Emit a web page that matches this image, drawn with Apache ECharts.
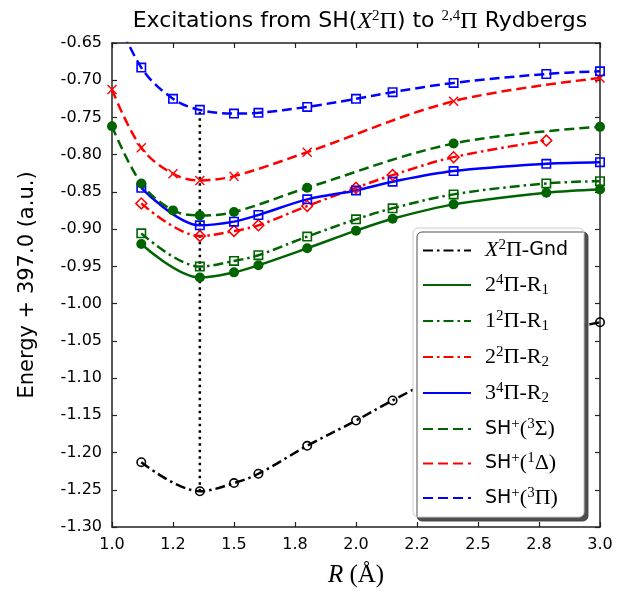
<!DOCTYPE html>
<html>
<head>
<meta charset="utf-8">
<script src="https://cdn.jsdelivr.net/npm/echarts@6/dist/echarts.min.js"></script>
<style>
  html, body { margin: 0; padding: 0; background: #fff; }
  #chart { width: 617px; height: 593px; }
</style>
</head>
<body>
<div id="chart"></div>
<script>
// ---- data ----
const X_TICK_LABELS = ["1.0", "1.2", "1.5", "1.8", "2.0", "2.2", "2.5", "2.8", "3.0"];

const R_FULL = [1.12, 1.36, 1.5, 1.6, 1.8, 2.0, 2.15, 2.4, 2.78, 3.0];
const R_ION = [1.0, 1.12, 1.25, 1.36, 1.5, 1.8, 2.4, 3.0];
const R_PI3 = [1.0, 1.12, 1.25, 1.36, 1.5, 1.6, 1.8, 2.0, 2.15, 2.4, 2.78, 3.0];

const GND = [-1.213, -1.252, -1.241, -1.2285, -1.191, -1.157, -1.130, -1.089, -1.042, -1.025];
const R1_4PI2 = [-0.920, -0.965, -0.958, -0.9485, -0.9257, -0.902, -0.886, -0.8667, -0.851, -0.8466];
const R1_2PI1 = [-0.9056, -0.9502, -0.9427, -0.935, -0.910, -0.8868, -0.872, -0.8533, -0.8386, -0.8355];
const R2_2PI2 = [-0.8654, -0.9092, -0.9025, -0.8949, -0.869, -0.8444, -0.8274, -0.8033, -0.781];
const R2_4PI3 = [-0.8444, -0.8949, -0.8899, -0.881, -0.860, -0.848, -0.8363, -0.822, -0.8122, -0.810];
const ION_3SIG = [-0.7618, -0.8386, -0.8748, -0.8815, -0.877, -0.8444, -0.785, -0.7626];
const ION_1DEL = [-0.7126, -0.7907, -0.8256, -0.8345, -0.8288, -0.7966, -0.7282, -0.697];
const ION_3PI = [-0.60, -0.683, -0.725, -0.7398, -0.7448, -0.7438, -0.7358, -0.725, -0.716, -0.7036, -0.6916, -0.688];

const R_EQ = 1.36;

// ---- styles ----
const GREEN = "#006400", RED = "#ff0000", BLUE = "#0000ff", BLACK = "#000000";
const DASH = [10, 5];
const DASHDOT = [10, 4, 2.5, 4];

// hollow markers as ring paths so the line shows through
const SYM_SQUARE = "path://M0,0H10V10H0Z M1.6,1.6V8.4H8.4V1.6Z";
const SYM_DIAMOND = "path://M5,0L10,5L5,10L0,5Z M5,1.7L1.7,5L5,8.3L8.3,5Z";
const SYM_RING = "path://M5,0A5,5 0 1,1 5,10A5,5 0 1,1 5,0Z M5,1.6A3.4,3.4 0 1,0 5,8.4A3.4,3.4 0 1,0 5,1.6Z";
const SYM_X = "path://M0,1L1,0L5,4L9,0L10,1L6,5L10,9L9,10L5,6L1,10L0,9L4,5Z";

const SANS = "DejaVu Sans";
const SERIF = "Liberation Serif";

function richSet(sans, serif, small) {
    return {
        s: { fontFamily: SANS, fontSize: sans, fontWeight: "normal", color: "#000" },
        m: { fontFamily: SERIF, fontSize: serif, fontWeight: "normal", color: "#000" },
        it: { fontFamily: SERIF, fontStyle: "italic", fontSize: serif, fontWeight: "normal", color: "#000" },
        sup: { fontFamily: SERIF, fontSize: small, fontWeight: "normal", color: "#000", padding: [0, 0, 10, 0] },
        sub: { fontFamily: SERIF, fontSize: small, fontWeight: "normal", color: "#000", padding: [10, 0, 0, 0] },
    };
}

const LEGEND_TEXT = {
    gnd: "{it|X}{sup|2}{m|Π-}{s|Gnd}",
    r1a: "{m|2}{sup|4}{m|Π-R}{sub|1}",
    r1b: "{m|1}{sup|2}{m|Π-R}{sub|1}",
    r2a: "{m|2}{sup|2}{m|Π-R}{sub|2}",
    r2b: "{m|3}{sup|4}{m|Π-R}{sub|2}",
    sig: "{s|SH}{sup|+}{m|(}{sup|3}{m|Σ)}",
    del: "{s|SH}{sup|+}{m|(}{sup|1}{m|Δ)}",
    pi: "{s|SH}{sup|+}{m|(}{sup|3}{m|Π)}",
};

function pairs(xs, ys) {
    return ys.map((y, i) => [xs[i], y]);
}

function curve(name, xs, ys, color, dash, symbol, size) {
    return {
        name,
        type: "line",
        data: pairs(xs, ys),
        smooth: 0.35,
        symbol,
        symbolSize: size,
        showAllSymbol: true,
        clip: true,
        itemStyle: { color },
        lineStyle: { color, width: 2.5, type: dash },
        emphasis: { disabled: true },
        z: 3,
    };
}

const chart = echarts.init(document.getElementById("chart"), null, { renderer: "canvas" });

const axisCommon = {
    type: "value",
    axisLine: { show: true, onZero: false, lineStyle: { color: "#222", width: 1.5 } },
    axisTick: { show: true, inside: true, length: 5, lineStyle: { color: "#222", width: 1.2 } },
    splitLine: { show: false },
};

chart.setOption({
    animation: false,
    backgroundColor: "#fff",
    title: {
        text: "{s|Excitations from SH(}{it|X}{sup|2}{m|Π}{s|) to }{sup|2,4}{m|Π}{s| Rydbergs}",
        left: 355,
        textAlign: "center",
        top: 4,
        textStyle: { fontWeight: "normal", rich: richSet(22, 24, 15) },
    },
    grid: { left: 112, right: 17, top: 43, bottom: 65 },
    xAxis: [
        Object.assign({}, axisCommon, {
            min: 1.0, max: 3.0, interval: 0.25,
            axisLabel: {
                margin: 10,
                fontFamily: SANS, fontSize: 16, color: "#000",
                formatter: v => X_TICK_LABELS[Math.round((v - 1.0) / 0.25)],
            },
            name: "{it|R}{m| (Å)}",
            nameLocation: "middle",
            nameGap: 36,
            nameTextStyle: { rich: richSet(20, 25, 15) },
        }),
        Object.assign({}, axisCommon, {
            position: "top",
            min: 1.0, max: 3.0, interval: 0.25,
            axisLabel: { show: false },
        }),
    ],
    yAxis: [
        Object.assign({}, axisCommon, {
            min: -1.30, max: -0.65, interval: 0.05,
            axisLabel: {
                margin: 10,
                fontFamily: SANS, fontSize: 16, color: "#000",
                formatter: v => v.toFixed(2),
            },
            name: "Energy + 397.0 (a.u.)",
            nameLocation: "middle",
            nameGap: 74,
            nameTextStyle: { fontFamily: SANS, fontSize: 21, color: "#000" },
        }),
        Object.assign({}, axisCommon, {
            position: "right",
            min: -1.30, max: -0.65, interval: 0.05,
            axisLabel: { show: false },
        }),
    ],
    legend: {
        orient: "vertical",
        left: 413,
        top: 228,
        padding: [10, 16, 8, 9],
        itemWidth: 48,
        itemHeight: 14,
        itemGap: 11,
        backgroundColor: "#fff",
        borderColor: "#cccccc",
        borderWidth: 1,
        borderRadius: 5,
        shadowColor: "rgba(60,60,60,0.9)",
        shadowBlur: 0,
        shadowOffsetX: 4,
        shadowOffsetY: 4,
        itemStyle: { opacity: 0 },
        selectedMode: false,
        data: ["gnd", "r1a", "r1b", "r2a", "r2b", "sig", "del", "pi"],
        formatter: name => LEGEND_TEXT[name],
        textStyle: { rich: richSet(19, 22, 15), padding: [0, 0, 0, 9] },
    },
    series: [
        {
            name: "eq",
            type: "line",
            data: [[R_EQ, GND[1]], [R_EQ, ION_3PI[3]]],
            symbol: "none",
            lineStyle: { color: BLACK, width: 2.5, type: [2.5, 4] },
            emphasis: { disabled: true },
            z: 2,
        },
        curve("gnd", R_FULL, GND, BLACK, DASHDOT, SYM_RING, 10),
        curve("r1a", R_FULL, R1_4PI2, GREEN, "solid", "circle", 10),
        curve("r1b", R_FULL, R1_2PI1, GREEN, DASHDOT, SYM_SQUARE, 10),
        curve("r2a", R_FULL.slice(0, R2_2PI2.length), R2_2PI2, RED, DASHDOT, SYM_DIAMOND, 13),
        curve("r2b", R_FULL, R2_4PI3, BLUE, "solid", SYM_SQUARE, 10),
        curve("sig", R_ION, ION_3SIG, GREEN, DASH, "circle", 10),
        curve("del", R_ION, ION_1DEL, RED, DASH, SYM_X, 10),
        curve("pi", R_PI3, ION_3PI, BLUE, DASH, SYM_SQUARE, 10),
    ],
});
</script>
</body>
</html>
